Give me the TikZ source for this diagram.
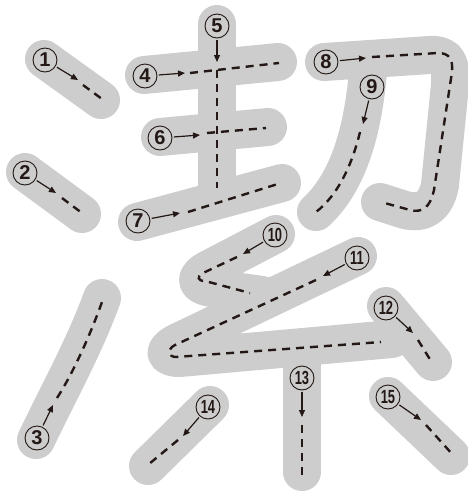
\documentclass[tikz,border=0pt]{standalone}
\usepackage{fontspec}
\setsansfont{Liberation Sans}
\usetikzlibrary{arrows.meta}
\definecolor{stk}{RGB}{204,205,204}
\definecolor{ink}{RGB}{35,24,21}
\begin{document}
\begin{tikzpicture}[x=1pt,y=-1pt,
 graystroke/.style={draw=stk, line width=38pt, line cap=round, line join=round},
 guide/.style={draw=ink, line width=2.4pt, dash pattern=on 8pt off 6pt},
 arr/.style={draw=ink, line width=1.2pt, shorten <=1.5pt, -{Triangle[length=7pt,width=6pt]}},
 num/.style={circle, draw=ink, line width=0.9pt, minimum size=24pt, inner sep=0pt, font=\sffamily\bfseries\fontsize{20}{20}\selectfont, text=ink},
 numtwo/.style={num, font=\sffamily\bfseries\fontsize{19}{19}\selectfont}]
\useasboundingbox (0,0) rectangle (468,491);
% gray brush strokes
\draw[graystroke] (44,59) -- (101,100);
\draw[graystroke] (25,172) -- (82,214);
\draw[graystroke] (36,440) .. controls (60,390) and (85,345) .. (102,298);
\draw[graystroke] (144,75) -- (278,62);
\draw[graystroke] (217,24) -- (217,200);
\draw[graystroke] (160,137) -- (268,127);
\draw[graystroke] (137,222) -- (282,183);
\draw[graystroke] (324,62) -- (430,55) .. controls (450,54) and (451,66) .. (450,85) -- (440,185) .. controls (436,205) and (425,215) .. (405,210) -- (380,202);
\draw[graystroke] (368,72) .. controls (362,140) and (345,185) .. (316,212);
\draw[graystroke] (276,234) -- (207,270) .. controls (193,278) and (196,286) .. (212,288) -- (262,295);
\draw[graystroke] (358,256) -- (178,342) .. controls (162,350) and (163,358) .. (180,358) -- (392,339);
\draw[graystroke] (386,306) -- (433,362);
\draw[graystroke] (302,362) -- (302,472);
\draw[graystroke] (210,405) -- (148,466);
\draw[graystroke] (388,396) -- (451,456);
% dashed guides
\draw[guide] (83,85) -- (102,99);
\draw[guide] (62,198) -- (82,213);
\draw[guide] (57,398) .. controls (75,370) and (92,330) .. (102,302);
\draw[guide] (190,73) -- (279,63);
\draw[guide] (217,70) -- (217,188);
\draw[guide] (207,133) -- (266,128);
\draw[guide] (188,212) -- (281,183);
\draw[guide] (372,57) -- (438,53) .. controls (450,53) and (453,60) .. (452,72) -- (434,190) .. controls (430,208) and (422,213) .. (410,210) -- (381,202);
\draw[guide] (360,132) .. controls (352,165) and (338,195) .. (316,212);
\draw[guide] (237,257) -- (203,273) .. controls (196,277) and (198,281) .. (205,281) -- (250,293);
\draw[guide] (316,280) -- (175,345) .. controls (167,349) and (168,357) .. (176,357) -- (381,342);
\draw[guide] (418,340) -- (431,361);
\draw[guide] (302,425) -- (302,476);
\draw[guide] (178,440) -- (149,464);
\draw[guide] (426,425) -- (453,455);
% numbers
\node[num] (n1) at (45,60) {1};
\node[num] (n2) at (25,173) {2};
\node[num] (n3) at (37,438) {3};
\node[num] (n4) at (145,76) {4};
\node[num] (n5) at (217,26) {5};
\node[num] (n6) at (160,138) {6};
\node[num] (n7) at (138,221) {7};
\node[num] (n8) at (326,62) {8};
\node[num] (n9) at (372,87) {9};
\node[numtwo] (n10) at (275,235) {\scalebox{0.68}[1]{10}};
\node[numtwo] (n11) at (357,258) {\scalebox{0.68}[1]{11}};
\node[numtwo] (n12) at (386,308) {\scalebox{0.68}[1]{12}};
\node[numtwo] (n13) at (302,378) {\scalebox{0.68}[1]{13}};
\node[numtwo] (n14) at (208,407) {\scalebox{0.68}[1]{14}};
\node[numtwo] (n15) at (388,397) {\scalebox{0.68}[1]{15}};
% arrow tips
\coordinate (t1) at (78,80);
\coordinate (t2) at (56,193);
\coordinate (t3) at (53,405);
\coordinate (t4) at (185,73);
\coordinate (t5) at (217,62);
\coordinate (t6) at (200,135);
\coordinate (t7) at (180,213);
\coordinate (t8) at (366,58);
\coordinate (t9) at (363,124);
\coordinate (t10) at (243,254);
\coordinate (t11) at (323,276);
\coordinate (t12) at (413,333);
\coordinate (t13) at (302,417);
\coordinate (t14) at (183,436);
\coordinate (t15) at (421,420);
\foreach \i in {1,...,15} {\draw[arr] (n\i) -- (t\i);}
\end{tikzpicture}
\end{document}
